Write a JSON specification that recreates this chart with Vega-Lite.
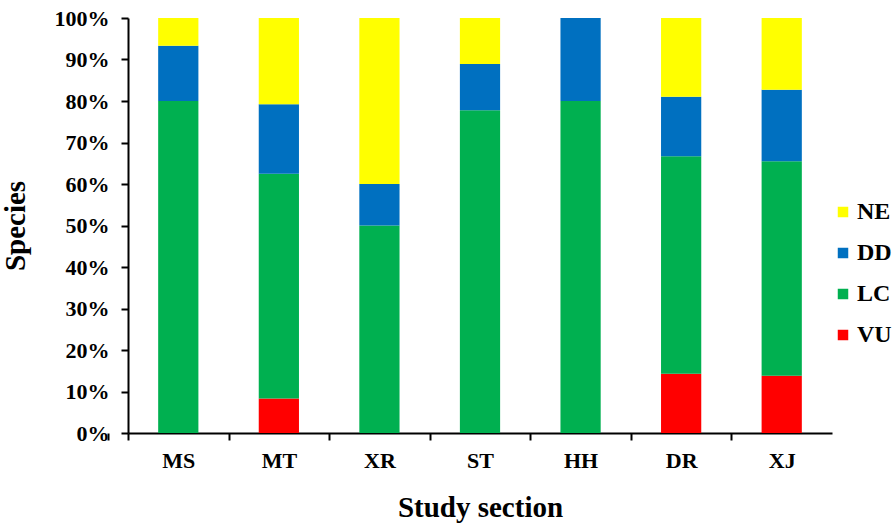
{
  "$schema": "https://vega.github.io/schema/vega-lite/v6.json",
  "width": 704,
  "height": 415,
  "autosize": {"type": "none"},
  "padding": {"left": 128, "top": 18, "right": 60, "bottom": 91},
  "background": "white",
  "config": {
    "view": {"stroke": null},
    "font": "Liberation Serif",
    "style": {"guide-label": {"font": "Liberation Serif", "fontWeight": "bold"}, "guide-title": {"font": "Liberation Serif", "fontWeight": "bold"}},
    "axis": {"labelFont": "Liberation Serif", "titleFont": "Liberation Serif", "labelFontWeight": "bold", "titleFontWeight": "bold", "labelColor": "black", "titleColor": "black", "domainColor": "black", "tickColor": "black", "domainWidth": 2, "tickWidth": 2, "grid": false},
    "legend": {"labelFont": "Liberation Serif", "labelFontWeight": "bold", "labelColor": "black"}
  },
  "data": {
    "values": [
      {"section": "MS", "status": "VU", "ord": 1, "pct": 0},
      {"section": "MS", "status": "LC", "ord": 2, "pct": 80.0},
      {"section": "MS", "status": "DD", "ord": 3, "pct": 13.3},
      {"section": "MS", "status": "NE", "ord": 4, "pct": 6.7},
      {"section": "MT", "status": "VU", "ord": 1, "pct": 8.3},
      {"section": "MT", "status": "LC", "ord": 2, "pct": 54.2},
      {"section": "MT", "status": "DD", "ord": 3, "pct": 16.7},
      {"section": "MT", "status": "NE", "ord": 4, "pct": 20.8},
      {"section": "XR", "status": "VU", "ord": 1, "pct": 0},
      {"section": "XR", "status": "LC", "ord": 2, "pct": 50.0},
      {"section": "XR", "status": "DD", "ord": 3, "pct": 10.0},
      {"section": "XR", "status": "NE", "ord": 4, "pct": 40.0},
      {"section": "ST", "status": "VU", "ord": 1, "pct": 0},
      {"section": "ST", "status": "LC", "ord": 2, "pct": 77.8},
      {"section": "ST", "status": "DD", "ord": 3, "pct": 11.1},
      {"section": "ST", "status": "NE", "ord": 4, "pct": 11.1},
      {"section": "HH", "status": "VU", "ord": 1, "pct": 0},
      {"section": "HH", "status": "LC", "ord": 2, "pct": 80.0},
      {"section": "HH", "status": "DD", "ord": 3, "pct": 20.0},
      {"section": "HH", "status": "NE", "ord": 4, "pct": 0},
      {"section": "DR", "status": "VU", "ord": 1, "pct": 14.3},
      {"section": "DR", "status": "LC", "ord": 2, "pct": 52.4},
      {"section": "DR", "status": "DD", "ord": 3, "pct": 14.3},
      {"section": "DR", "status": "NE", "ord": 4, "pct": 19.0},
      {"section": "XJ", "status": "VU", "ord": 1, "pct": 13.8},
      {"section": "XJ", "status": "LC", "ord": 2, "pct": 51.7},
      {"section": "XJ", "status": "DD", "ord": 3, "pct": 17.2},
      {"section": "XJ", "status": "NE", "ord": 4, "pct": 17.3}
    ]
  },
  "mark": {"type": "bar"},
  "encoding": {
    "x": {
      "field": "section", "type": "nominal", "sort": null,
      "scale": {"paddingInner": 0.6, "paddingOuter": 0.3},
      "axis": {"title": "Study section", "labelAngle": 0, "labelFont": "Liberation Serif", "labelFontWeight": "bold", "labelFontSize": 22, "titleFontSize": 29, "tickOffset": -50.3, "labelOffset": 50.3, "tickExtra": true, "tickSize": 7, "labelPadding": 10, "titlePadding": 22}
    },
    "y": {
      "field": "pct", "type": "quantitative", "stack": "normalize",
      "scale": {"domain": [0, 1]},
      "axis": {"title": "Species", "format": ".0%", "values": [0, 0.1, 0.2, 0.3, 0.4, 0.5, 0.6, 0.7, 0.8, 0.9, 1], "labelOverlap": false, "labelFont": "Liberation Serif", "labelFontWeight": "bold", "labelFontSize": 22, "titleFontSize": 29, "tickSize": 7, "labelPadding": 12, "titlePadding": 24}
    },
    "color": {
      "field": "status", "type": "nominal",
      "scale": {"domain": ["NE", "DD", "LC", "VU"], "range": ["#FFFF00", "#0070C0", "#00B050", "#FF0000"]},
      "legend": {"title": null, "orient": "none", "legendX": 703, "legendY": 182, "symbolType": "square", "symbolSize": 110, "symbolStrokeWidth": 0, "labelFont": "Liberation Serif", "labelFontWeight": "bold", "labelFontSize": 24, "rowPadding": 17, "labelOffset": 2}
    },
    "order": {"field": "ord", "type": "quantitative", "sort": "ascending"}
  }
}
